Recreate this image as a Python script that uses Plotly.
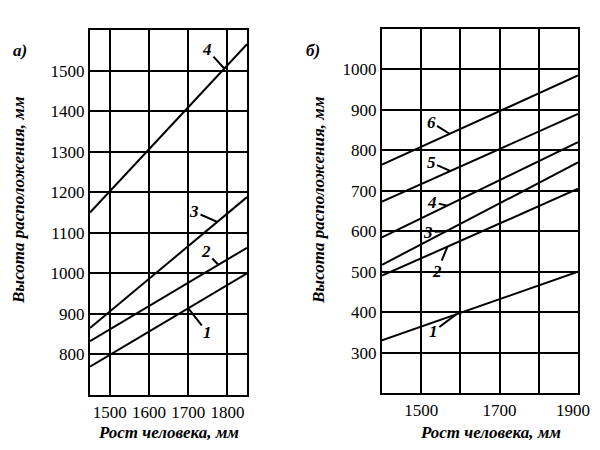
import plotly.graph_objects as go

# panel а)
a_height = [1450, 1850]
a_line1 = [770, 1000]
a_line2 = [833, 1063]
a_line3 = [865, 1188]
a_line4 = [1150, 1565]
a_xticks = [1500, 1600, 1700, 1800]
a_yticks = [800, 900, 1000, 1100, 1200, 1300, 1400, 1500]

# panel б)
b_height = [1400, 1900]
b_line1 = [330, 500]
b_line2 = [490, 705]
b_line3 = [517, 770]
b_line4 = [585, 820]
b_line5 = [673, 890]
b_line6 = [765, 985]
b_xticks = [1500, 1600, 1700, 1800, 1900]
b_xticktext = ["1500", "", "1700", "", ""]  # 1900 sits on the page edge, drawn below
b_yticks = [300, 400, 500, 600, 700, 800, 900, 1000]

# curve labels: (text, label x, label y, tip x, tip y)
a_labels = [("4", 1748, 1552, 1792, 1505), ("3", 1715, 1152, 1774, 1127),
            ("2", 1745, 1053, 1777, 1021), ("1", 1750, 853, 1700, 914)]
b_labels = [("6", 1525, 870, 1572, 841), ("5", 1525, 770, 1574, 749),
            ("4", 1528, 672, 1567, 663), ("3", 1518, 598, 1564, 600),
            ("2", 1541, 500, 1567, 562), ("1", 1531, 352, 1590, 395)]

SERIF = "Liberation Serif, Times New Roman, serif"
LINE = dict(color="black", width=2)

# page body has an 8px margin, so the figure is 584x434
W, H, OFF = 584, 434, 8


def px(x):
    return (x - OFF) / W


def py(y):
    return 1 - (y - OFF) / H


fig = go.Figure()
for ys in [a_line1, a_line2, a_line3, a_line4]:
    fig.add_trace(go.Scatter(x=a_height, y=ys, mode="lines", line=LINE,
                             xaxis="x", yaxis="y", showlegend=False))
for ys in [b_line1, b_line2, b_line3, b_line4, b_line5, b_line6]:
    fig.add_trace(go.Scatter(x=b_height, y=ys, mode="lines", line=LINE,
                             xaxis="x2", yaxis="y2", showlegend=False))

tick_font = dict(family=SERIF, size=17, color="black")
axis_style = dict(showgrid=True, gridcolor="black", gridwidth=2,
                  showline=True, linecolor="black", linewidth=2, mirror=True,
                  zeroline=False, ticks="", tickfont=tick_font)

fig.update_layout(
    width=W, height=H,
    margin=dict(l=0, r=0, t=0, b=0),
    paper_bgcolor="white", plot_bgcolor="white",
    xaxis=dict(domain=[px(90), px(247)], range=[1450, 1850], tickvals=a_xticks,
               anchor="y", ticklabelstandoff=1, **axis_style),
    yaxis=dict(domain=[py(395), py(30)], range=[700, 1600], tickvals=a_yticks,
               anchor="x", **axis_style),
    xaxis2=dict(domain=[px(382), px(578)], range=[1400, 1900], tickvals=b_xticks,
                ticktext=b_xticktext, anchor="y2", ticklabelstandoff=1, **axis_style),
    yaxis2=dict(domain=[py(393), py(29)], range=[200, 1100], tickvals=b_yticks,
                anchor="x2", **axis_style),
)

ann = []
for xr, yr, labels in [("x", "y", a_labels), ("x2", "y2", b_labels)]:
    for t, lx, ly, tx, ty in labels:
        ann.append(dict(text="<b><i>%s</i></b>" % t, x=tx, y=ty, ax=lx, ay=ly,
                        xref=xr, yref=yr, axref=xr, ayref=yr,
                        showarrow=True, arrowhead=0, arrowwidth=2, arrowcolor="black",
                        font=dict(family=SERIF, size=17, color="black")))

title_font = dict(family=SERIF, size=17, color="black")
common = dict(xref="paper", yref="paper", showarrow=False, xanchor="center",
              yanchor="middle", font=title_font)
ann += [
    dict(text=str(b_xticks[-1]), x=1.0, y=py(410), xref="paper", yref="paper",
         showarrow=False, xanchor="right", yanchor="middle", font=tick_font),
    dict(text="<b><i>а)</i></b>", x=px(20), y=py(50), **common),
    dict(text="<b><i>б)</i></b>", x=px(313), y=py(50), **common),
    dict(text="<b><i>Высота расположения, мм</i></b>", x=px(18), y=py(200),
         textangle=-90, **common),
    dict(text="<b><i>Высота расположения, мм</i></b>", x=px(318), y=py(200),
         textangle=-90, **common),
    dict(text="<b><i>Рост человека, мм</i></b>", x=px(168), y=py(432), **common),
    dict(text="<b><i>Рост человека, мм</i></b>", x=px(490), y=py(432), **common),
]
fig.update_layout(annotations=ann)

fig.write_html("out.html")
